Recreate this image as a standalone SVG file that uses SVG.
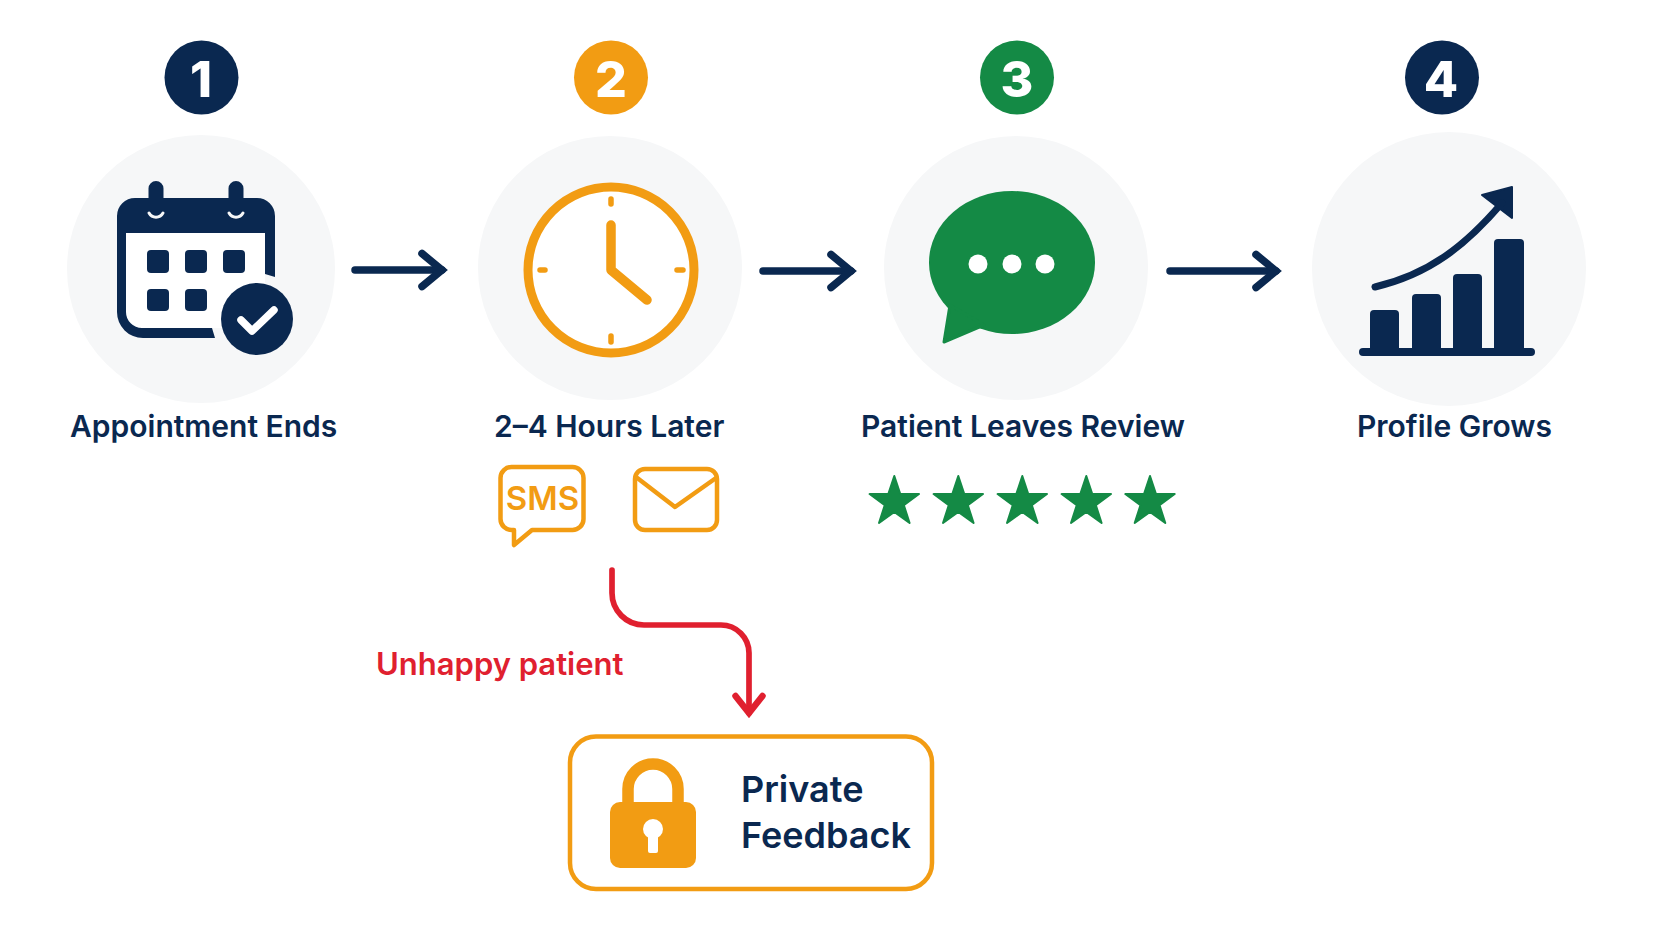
<svg xmlns="http://www.w3.org/2000/svg" width="1672" height="941" viewBox="0 0 1672 941">
<style>
.bg{fill:#f6f7f8}
.navy{fill:#0a2850}
.org{fill:#f29c13}
.grn{fill:#148a45}
.wht{fill:#fff}
.num{font-family:Inter,"Liberation Sans",sans-serif;font-weight:800;font-size:50px;fill:#fff;text-anchor:middle}
.lbl{font-family:Inter,"Liberation Sans",sans-serif;font-weight:600;font-size:30px;fill:#0a2850}
.line{fill:none;stroke-linecap:round;stroke-linejoin:round}
.olin{fill:none;stroke:#f29c13;stroke-width:4.5;stroke-linecap:round;stroke-linejoin:round}
</style>
<defs>
<marker id="hn" markerUnits="userSpaceOnUse" viewBox="-30 -24 42 48" markerWidth="42" markerHeight="48" refX="0" refY="0" orient="auto">
<path d="M-20 -16.5L0 0L-20 16.5" fill="none" stroke="#0a2850" stroke-width="7.5" stroke-linecap="round" stroke-linejoin="miter"/>
</marker>
<marker id="hr" markerUnits="userSpaceOnUse" viewBox="-30 -24 42 48" markerWidth="42" markerHeight="48" refX="0" refY="0" orient="auto">
<path d="M-17 -13.5L0 0L-17 13.5" fill="none" stroke="#e0202f" stroke-width="6.5" stroke-linecap="round" stroke-linejoin="miter"/>
</marker>
<polygon id="star" points="0,-26 5.9,-8.1 24.7,-8 9.5,3.1 15.3,21 0,10 -15.3,21 -9.5,3.1 -24.7,-8 -5.9,-8.1" fill="#148a45" stroke="#148a45" stroke-width="2" stroke-linejoin="round"/>
</defs>
<rect width="1672" height="941" fill="#fff"/>

<g id="step1">
<circle class="bg" cx="201" cy="269" r="134"/>
<circle class="navy" cx="201.5" cy="77.5" r="37"/>
<text class="num" x="201" y="97">1</text>
<path class="wht" d="M126 233H265V290L225 328H142A16 16 0 0 1 126 312Z"/>
<path class="navy" d="M135 198H257A18 18 0 0 1 275 216V277L265 274V233H126V312A16 16 0 0 0 142 328H212L215 338H143A26 26 0 0 1 117 312V216A18 18 0 0 1 135 198Z"/>
<path class="line" stroke="#0a2850" stroke-width="15" d="M156 188.500V212M236 188.500V212"/>
<path class="line" stroke="#f6f7f8" stroke-width="3" d="M149 213A8 8 0 0 0 163 213M229 213A8 8 0 0 0 243 213"/>
<g class="navy">
<rect x="147" y="250" width="22" height="23" rx="4"/><rect x="185" y="250" width="22" height="23" rx="4"/><rect x="223" y="250" width="22" height="23" rx="4"/>
<rect x="147" y="289" width="22" height="22" rx="4"/><rect x="185" y="289" width="22" height="22" rx="4"/>
</g>
<circle class="navy" cx="257" cy="319" r="36"/>
<path class="line" stroke="#fff" stroke-width="7.500" d="M241 320L252 331L274 310"/>
<text class="lbl" x="70" y="437">Appointment Ends</text>
</g>

<g id="step2">
<circle class="bg" cx="610" cy="268" r="132"/>
<circle class="org" cx="611" cy="77.500" r="37"/>
<text class="num" x="611" y="97">2</text>
<circle cx="611" cy="270" r="83" fill="#fff" stroke="#f29c13" stroke-width="9"/>
<path class="line" stroke="#f29c13" stroke-width="5.500" d="M611 199V204M611 336V342M540 270H545M677 270H683"/>
<path class="line" stroke="#f29c13" stroke-width="9.500" d="M611 225V270L647 300"/>
<text class="lbl" x="494" y="437">2–4 Hours Later</text>
<path class="olin" d="M512 467H572A11 11 0 0 1 583.500 478V519A11 11 0 0 1 572 530H532L514 545V530H512A11 11 0 0 1 500.500 519V478A11 11 0 0 1 512 467Z"/>
<text x="542.500" y="510" text-anchor="middle" font-family="Inter,'Liberation Sans',sans-serif" font-weight="600" font-size="33" fill="#f29c13">SMS</text>
<rect class="olin" x="635" y="469" width="82" height="61" rx="10"/>
<path class="olin" d="M636 477L675 507L716 478"/>
</g>

<g id="step3">
<circle class="bg" cx="1016" cy="268" r="132"/>
<circle class="grn" cx="1017" cy="77.500" r="37"/>
<text class="num" x="1017" y="97">3</text>
<ellipse class="grn" cx="1012" cy="262.500" rx="83" ry="71.500"/>
<path class="grn" stroke="#148a45" stroke-width="3" stroke-linejoin="round" d="M950 305L944 342L984 325Z"/>
<circle class="wht" cx="978" cy="264" r="9.500"/><circle class="wht" cx="1012" cy="264" r="9.500"/><circle class="wht" cx="1045" cy="264" r="9.500"/>
<text class="lbl" x="861" y="437">Patient Leaves Review</text>
<use href="#star" x="894.300" y="502"/><use href="#star" x="958.300" y="502"/><use href="#star" x="1022.300" y="502"/><use href="#star" x="1086.300" y="502"/><use href="#star" x="1150" y="502"/>
</g>

<g id="step4">
<circle class="bg" cx="1449" cy="269" r="137"/>
<circle class="navy" cx="1442" cy="77.500" r="37"/>
<text class="num" x="1441" y="97">4</text>
<g class="navy">
<path d="M1370 350V314A4 4 0 0 1 1374 310H1395A4 4 0 0 1 1399 314V350Z"/>
<path d="M1412 350V298A4 4 0 0 1 1416 294H1437A4 4 0 0 1 1441 298V350Z"/>
<path d="M1453 350V278A4 4 0 0 1 1457 274H1478A4 4 0 0 1 1482 278V350Z"/>
<path d="M1494 350V243A4 4 0 0 1 1498 239H1520A4 4 0 0 1 1524 243V350Z"/>
<rect x="1359" y="348" width="176" height="8" rx="4"/>
<path d="M1512 187L1482 195L1512 218Z" stroke="#0a2850" stroke-width="2" stroke-linejoin="round"/>
</g>
<path class="line" stroke="#0a2850" stroke-width="7" d="M1375 287C1430 274 1466 245 1502 203"/>
<text class="lbl" x="1357" y="437">Profile Grows</text>
</g>

<g id="unhappy">
<text x="376" y="675" font-family="Inter,'Liberation Sans',sans-serif" font-weight="600" font-size="31" fill="#e0202f">Unhappy patient</text>
</g>

<g id="private-feedback">
<rect x="570" y="736.500" width="362" height="152.500" rx="26" fill="#fff" stroke="#f29c13" stroke-width="4.500"/>
<path class="line" stroke="#f29c13" stroke-width="11.500" style="stroke-linecap:butt" d="M628 806V789A25 25 0 0 1 678 789V806"/>
<rect class="org" x="610" y="802" width="86" height="66" rx="10"/>
<circle class="wht" cx="653" cy="829" r="10"/>
<path class="wht" d="M648 832H658V851A2 2 0 0 1 656 853H650A2 2 0 0 1 648 851Z"/>
<text class="lbl" x="741" y="802" style="font-size:36px">Private</text>
<text class="lbl" x="741" y="848" style="font-size:36px">Feedback</text>
</g>

<g id="connectors">
<path class="line" stroke="#0a2850" stroke-width="7.500" marker-end="url(#hn)" d="M355 270H442"/>
<path class="line" stroke="#0a2850" stroke-width="7.500" marker-end="url(#hn)" d="M763 271H851"/>
<path class="line" stroke="#0a2850" stroke-width="7.500" marker-end="url(#hn)" d="M1170 271H1276"/>
<path class="line" stroke="#e0202f" stroke-width="5.700" marker-end="url(#hr)" d="M612 570V593A32 32 0 0 0 644 625H721A28 28 0 0 1 749 653V713"/>
</g>
</svg>
